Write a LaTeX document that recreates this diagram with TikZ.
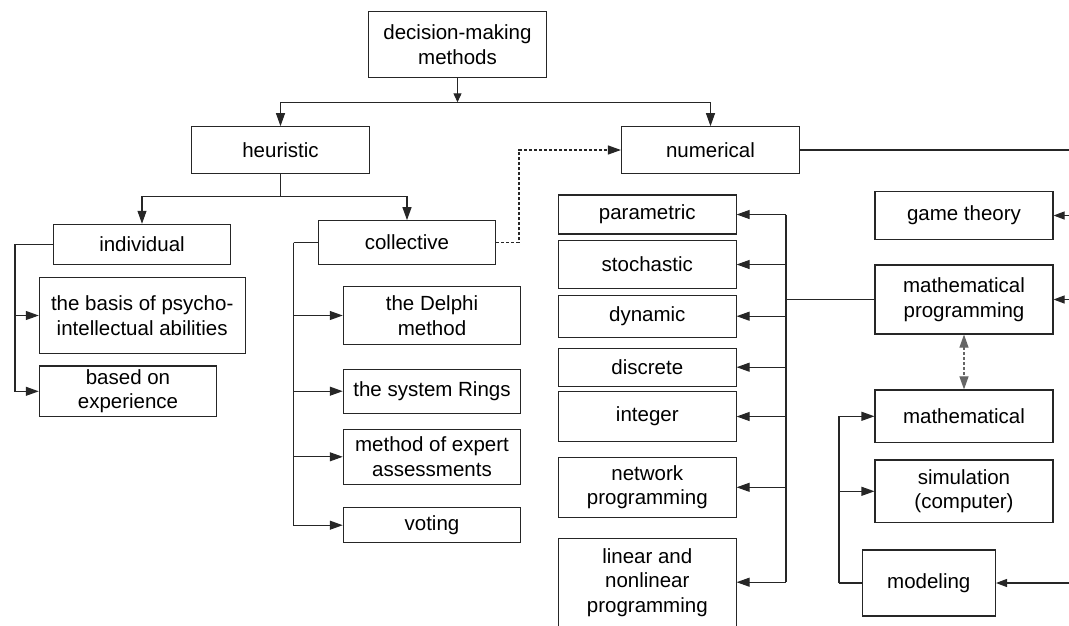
\documentclass[tikz,border=0pt]{standalone}
\usepackage{fontspec}
\setmainfont{Liberation Sans}
\usetikzlibrary{arrows.meta}

\begin{document}
\begin{tikzpicture}[x=1pt, y=-1pt, >={Triangle[length=13pt,width=9pt]},
  every node/.style={font=\fontsize{20.5}{24.5}\selectfont},
  box/.style={draw=black!85, line width=1.1pt, align=center, inner sep=1pt},
  sized/.style 2 args={minimum width=#1, minimum height=#2},
  link/.style={black!85, line width=1.1pt},
  dlink/.style={link, dash pattern=on 3pt off 2pt}]
  \useasboundingbox (0,0) rectangle (1069,625);
  \clip (0,0) rectangle (1069,625);

  % Top levels
  \node[box,sized={178}{66}] (dm) at (457.5,44.7) {decision-making\\methods};
  \node[box,sized={178}{46.6}] (heur) at (280.5,150) {heuristic};
  \node[box,sized={178}{46.6}] (num) at (710.5,150) {numerical};

  % Heuristic branch
  \node[box,sized={177.4}{40}] (indiv) at (142,244.3) {individual};
  \node[box,sized={177.4}{43.6}] (coll) at (407,242.5) {collective};
  \node[box,sized={205.7}{75.6}] (psycho) at (142.2,315.5) {the basis of psycho-\\intellectual abilities};
  \node[box,sized={177.4}{50.7}] (exper) at (128,391.3) {based on\\experience};
  \node[box,sized={177.4}{57.6}] (delphi) at (432,315.5) {the Delphi\\method};
  \node[box,sized={177.4}{44.3}] (rings) at (432,391.2) {the system Rings};
  \node[box,sized={177.4}{55}] (expert) at (432,456.8) {method of expert\\assessments};
  \node[box,sized={177.4}{35}] (voting) at (432,525.2) {voting};

  % Numerical branch, left column
  \foreach \n/\y/\h/\t in {param/214.5/39/parametric, stoch/264.5/47.6/stochastic,
      dyn/316.2/42.3/dynamic, discr/367.2/37.7/discrete, integ/416.5/50.4/integer,
      netw/487.3/60/{network\\programming},
      linear/582.2/87.7/{linear and\\nonlinear\\programming}}
    \node[box,sized={177.5}{\h}] (\n) at (647.3,\y) {\t};

  % Numerical branch, right column
  \node[box,sized={178}{47.6}] (game) at (964,215.5) {game theory};
  \node[box,sized={178}{69}] (mprog) at (964,299.5) {mathematical\\programming};
  \node[box,sized={178}{52.7}] (math) at (964,416.3) {mathematical};
  \node[box,sized={178}{62.7}] (sim) at (964,491.3) {simulation\\(computer)};
  \node[box,sized={133.3}{66}] (model) at (928.8,583) {modeling};

  % Bends
  \coordinate (topBus) at (457.5,102.3);
  \coordinate (heurBus) at (280.5,196.3);
  \coordinate (indL) at (15,244.3);
  \coordinate (collL) at (293.5,242.5);
  \coordinate (dashTurn) at (519,242.5);
  \coordinate (numBus) at (786,299.5);
  \coordinate (rightBus) at (1090,150);
  \coordinate (modL) at (839,583);

  % Top connectors
  \draw[link,-{Triangle[length=9pt,width=8pt]}] (dm.south) -- (topBus);
  \draw[link,->] (topBus) -| (heur.north);
  \draw[link,->] (topBus) -| (num.north);
  \draw[link,->] (heur.south) -- (heurBus) -| (indiv.north);
  \draw[link,->] (heurBus) -| (coll.north);

  % Individual and collective
  \draw[link] (indiv.west) -- (indL);
  \foreach \n in {psycho,exper}
    \draw[link,->] (indL) |- (\n.west);
  \draw[link] (coll.west) -- (collL);
  \foreach \n in {delphi,rings,expert,voting}
    \draw[link,->] (collL) |- (\n.west);
  \draw[dlink,->] (coll.east) -- (dashTurn) |- (num.west);

  % Numerical
  \draw[link] (num.east) -- (rightBus);
  \draw[link] (mprog.west) -- (numBus);
  \draw[link] (numBus |- param.east) -- (numBus |- linear.east);
  \foreach \n in {param,stoch,dyn,discr,integ,netw,linear}
    \draw[link,->] (numBus |- \n.east) -- (\n.east);
  \foreach \n in {game,mprog,model}
    \draw[link,-{Triangle[length=11pt,width=8pt]}] (rightBus |- \n.east) -- (\n.east);
  \draw[dlink,black!60,<->] (mprog.south) -- (math.north);

  % Modeling
  \draw[link] (model.west) -- (modL);
  \foreach \n in {math,sim}
    \draw[link,->] (modL) |- (\n.west);
\end{tikzpicture}
\end{document}
